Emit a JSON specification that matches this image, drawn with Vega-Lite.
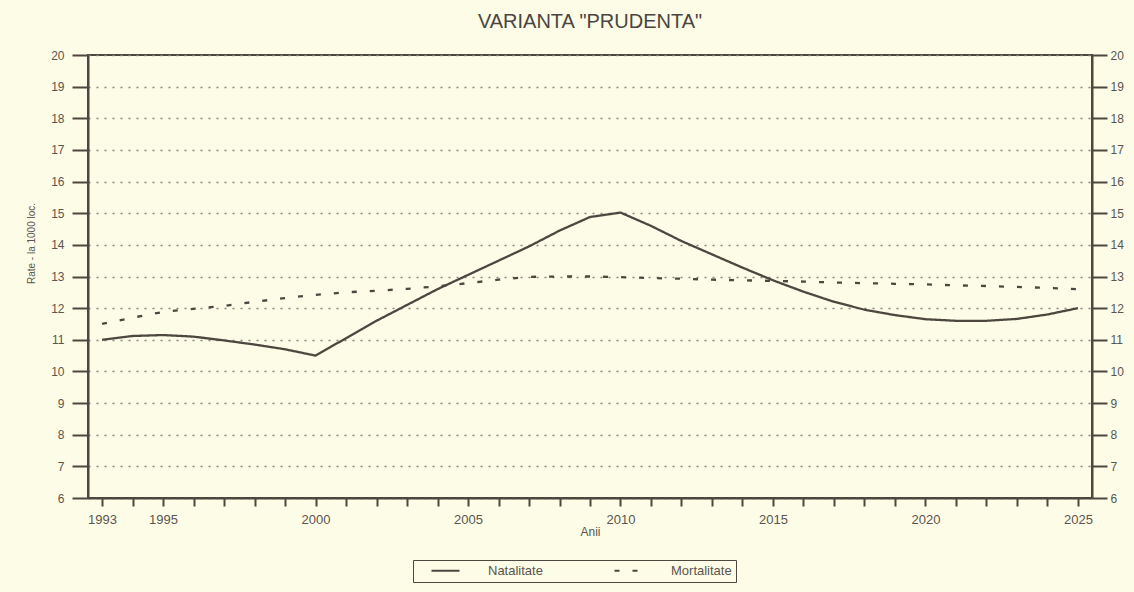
{
  "$schema": "https://vega.github.io/schema/vega-lite/v6.json",
  "width": 1004,
  "height": 443,
  "autosize": {"type": "none"},
  "padding": {"left": 88, "top": 55, "right": 42, "bottom": 94},
  "background": "#fdfce6",
  "title": {"text": "VARIANTA \"PRUDENTA\"", "fontSize": 20, "fontWeight": "normal", "color": "#4a4540", "offset": 17, "anchor": "middle", "font": "Liberation Sans"},
  "config": {
    "font": "Liberation Sans",
    "view": {"stroke": "#4d4740", "strokeWidth": 2},
    "axis": {"domainColor": "#4d4740", "domainWidth": 2, "tickColor": "#4d4740", "tickWidth": 2, "labelColor": "#5a5550", "titleColor": "#5a5550", "titleFontWeight": "normal"}
  },
  "data": {"values": [
    {"an": 1993, "indicator": "Natalitate", "rata": 11.0},
    {"an": 1994, "indicator": "Natalitate", "rata": 11.12},
    {"an": 1995, "indicator": "Natalitate", "rata": 11.15},
    {"an": 1996, "indicator": "Natalitate", "rata": 11.1},
    {"an": 1997, "indicator": "Natalitate", "rata": 10.98},
    {"an": 1998, "indicator": "Natalitate", "rata": 10.85},
    {"an": 1999, "indicator": "Natalitate", "rata": 10.7},
    {"an": 2000, "indicator": "Natalitate", "rata": 10.5},
    {"an": 2001, "indicator": "Natalitate", "rata": 11.05},
    {"an": 2002, "indicator": "Natalitate", "rata": 11.6},
    {"an": 2003, "indicator": "Natalitate", "rata": 12.1},
    {"an": 2004, "indicator": "Natalitate", "rata": 12.6},
    {"an": 2005, "indicator": "Natalitate", "rata": 13.05},
    {"an": 2006, "indicator": "Natalitate", "rata": 13.5},
    {"an": 2007, "indicator": "Natalitate", "rata": 13.95},
    {"an": 2008, "indicator": "Natalitate", "rata": 14.45},
    {"an": 2009, "indicator": "Natalitate", "rata": 14.88},
    {"an": 2010, "indicator": "Natalitate", "rata": 15.02},
    {"an": 2011, "indicator": "Natalitate", "rata": 14.6},
    {"an": 2012, "indicator": "Natalitate", "rata": 14.12},
    {"an": 2013, "indicator": "Natalitate", "rata": 13.7},
    {"an": 2014, "indicator": "Natalitate", "rata": 13.28},
    {"an": 2015, "indicator": "Natalitate", "rata": 12.88},
    {"an": 2016, "indicator": "Natalitate", "rata": 12.52},
    {"an": 2017, "indicator": "Natalitate", "rata": 12.2},
    {"an": 2018, "indicator": "Natalitate", "rata": 11.95},
    {"an": 2019, "indicator": "Natalitate", "rata": 11.78},
    {"an": 2020, "indicator": "Natalitate", "rata": 11.65},
    {"an": 2021, "indicator": "Natalitate", "rata": 11.6},
    {"an": 2022, "indicator": "Natalitate", "rata": 11.6},
    {"an": 2023, "indicator": "Natalitate", "rata": 11.66},
    {"an": 2024, "indicator": "Natalitate", "rata": 11.8},
    {"an": 2025, "indicator": "Natalitate", "rata": 12.0},
    {"an": 1993, "indicator": "Mortalitate", "rata": 11.5},
    {"an": 1994, "indicator": "Mortalitate", "rata": 11.7},
    {"an": 1995, "indicator": "Mortalitate", "rata": 11.88},
    {"an": 1996, "indicator": "Mortalitate", "rata": 11.98},
    {"an": 1997, "indicator": "Mortalitate", "rata": 12.07},
    {"an": 1998, "indicator": "Mortalitate", "rata": 12.2},
    {"an": 1999, "indicator": "Mortalitate", "rata": 12.32},
    {"an": 2000, "indicator": "Mortalitate", "rata": 12.42},
    {"an": 2001, "indicator": "Mortalitate", "rata": 12.5},
    {"an": 2002, "indicator": "Mortalitate", "rata": 12.55},
    {"an": 2003, "indicator": "Mortalitate", "rata": 12.61},
    {"an": 2004, "indicator": "Mortalitate", "rata": 12.69},
    {"an": 2005, "indicator": "Mortalitate", "rata": 12.79},
    {"an": 2006, "indicator": "Mortalitate", "rata": 12.9},
    {"an": 2007, "indicator": "Mortalitate", "rata": 12.99},
    {"an": 2008, "indicator": "Mortalitate", "rata": 13.0},
    {"an": 2009, "indicator": "Mortalitate", "rata": 13.0},
    {"an": 2010, "indicator": "Mortalitate", "rata": 12.98},
    {"an": 2011, "indicator": "Mortalitate", "rata": 12.95},
    {"an": 2012, "indicator": "Mortalitate", "rata": 12.93},
    {"an": 2013, "indicator": "Mortalitate", "rata": 12.9},
    {"an": 2014, "indicator": "Mortalitate", "rata": 12.88},
    {"an": 2015, "indicator": "Mortalitate", "rata": 12.86},
    {"an": 2016, "indicator": "Mortalitate", "rata": 12.84},
    {"an": 2017, "indicator": "Mortalitate", "rata": 12.81},
    {"an": 2018, "indicator": "Mortalitate", "rata": 12.79},
    {"an": 2019, "indicator": "Mortalitate", "rata": 12.77},
    {"an": 2020, "indicator": "Mortalitate", "rata": 12.75},
    {"an": 2021, "indicator": "Mortalitate", "rata": 12.72},
    {"an": 2022, "indicator": "Mortalitate", "rata": 12.7},
    {"an": 2023, "indicator": "Mortalitate", "rata": 12.67},
    {"an": 2024, "indicator": "Mortalitate", "rata": 12.64},
    {"an": 2025, "indicator": "Mortalitate", "rata": 12.6}
  ]},
  "layer": [
    {
      "mark": {"type": "line", "color": "#4d4740", "strokeWidth": 2.3, "interpolate": "linear"},
      "encoding": {
        "x": {"field": "an", "type": "quantitative",
          "scale": {"domain": [1992.54, 2025.46], "nice": false, "zero": false},
          "axis": {"values": [1993,1994,1995,1996,1997,1998,1999,2000,2001,2002,2003,2004,2005,2006,2007,2008,2009,2010,2011,2012,2013,2014,2015,2016,2017,2018,2019,2020,2021,2022,2023,2024,2025],
            "tickCount": 60,
            "format": "d", "labelExpr": "indexof([1993,1995,2000,2005,2010,2015,2020,2025], datum.value) >= 0 ? datum.label : ''",
            "grid": false, "tickSize": 8, "labelPadding": 7, "labelFontSize": 13, "labelFlush": false, "labelOverlap": false,
            "title": "Anii", "titleFontSize": 12, "titlePadding": 0}},
        "y": {"field": "rata", "type": "quantitative",
          "scale": {"domain": [6, 20], "nice": false, "zero": false},
          "axis": {"orient": "left", "values": [6,7,8,9,10,11,12,13,14,15,16,17,18,19,20], "tickCount": 30, "format": "d",
            "grid": true, "gridDash": [2, 6], "gridColor": "#8a8580", "gridWidth": 1.3,
            "tickSize": 16, "labelPadding": 8, "labelFontSize": 12, "labelFlush": false,
            "title": "Rate - la 1000 loc.", "titleFontSize": 10, "titleX": -52, "titleY": 188}},
        "strokeDash": {"field": "indicator", "type": "nominal",
          "scale": {"domain": ["Natalitate", "Mortalitate"], "range": [[1, 0], [5, 13]]},
          "legend": {"title": null, "orient": "none", "legendX": 325, "legendY": 505, "direction": "horizontal",
            "strokeColor": "#4d4740", "padding": 4, "symbolType": "M1.6,0H7.2", "symbolSize": 100,
            "symbolStrokeWidth": 2, "symbolStrokeColor": "#4d4740", "symbolFillColor": "transparent",
            "columnPadding": 57, "labelOffset": 58,
            "labelFontSize": 13, "labelColor": "#5a5550"}}
      }
    },
    {
      "mark": {"type": "point", "opacity": 0},
      "encoding": {
        "x": {"field": "an", "type": "quantitative"},
        "y": {"field": "rata", "type": "quantitative",
          "axis": {"orient": "right", "values": [6,7,8,9,10,11,12,13,14,15,16,17,18,19,20], "tickCount": 30, "format": "d",
            "grid": false, "tickSize": 15, "labelPadding": 3, "labelFontSize": 12, "labelFlush": false, "title": null}}
      }
    }
  ],
  "resolve": {"axis": {"y": "independent"}}
}
